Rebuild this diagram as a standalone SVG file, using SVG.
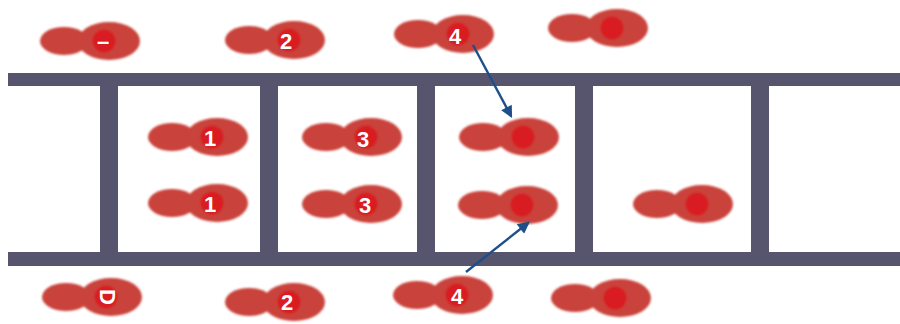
<svg xmlns="http://www.w3.org/2000/svg" xmlns:xlink="http://www.w3.org/1999/xlink" width="900" height="324" viewBox="0 0 900 324">
  <style>
    .rail { fill: #57546e; }
    .heel, .ball { fill: #c9433b; }
    .dot { fill: #d81e20; }
    .lbl { font-family: "Liberation Sans", Arial, sans-serif; font-weight: bold; font-size: 22px; fill: #ffffff; text-anchor: middle; dominant-baseline: central; }
    .conn { stroke: #1d4f8a; stroke-width: 2.4; fill: none; marker-end: url(#arrow); }
  </style>
  <defs>
    <filter id="soft" x="-10%" y="-20%" width="120%" height="140%">
      <feGaussianBlur stdDeviation="0.8"/>
    </filter>
    <!-- footprint shape, origin at the centre of the ball of the foot -->
    <g id="foot" filter="url(#soft)">
      <ellipse class="heel" cx="-45" cy="0" rx="24" ry="14"/>
      <ellipse class="heel" cx="-22" cy="1" rx="16" ry="9"/>
      <ellipse class="ball" cx="0" cy="0" rx="31" ry="19"/>
      <circle class="dot" cx="-5" cy="0" r="11.5"/>
    </g>
    <marker id="arrow" viewBox="0 0 10 10" refX="8" refY="5" markerWidth="5.5" markerHeight="5" orient="auto" markerUnits="strokeWidth">
      <path d="M0,0 L10,5 L0,10 z" fill="#1d4f8a"/>
    </marker>
  </defs>

  <rect width="900" height="324" fill="#ffffff"/>

  <!-- ladder: two rails and five rungs -->
  <g id="ladder">
    <rect class="rail" x="8" y="73" width="892" height="13"/>
    <rect class="rail" x="8" y="252" width="892" height="14"/>
    <rect class="rail" x="100" y="86" width="18" height="166"/>
    <rect class="rail" x="260" y="86" width="18" height="166"/>
    <rect class="rail" x="417" y="86" width="18" height="166"/>
    <rect class="rail" x="575" y="86" width="18" height="166"/>
    <rect class="rail" x="751" y="86" width="18" height="166"/>
  </g>

  <!-- top row -->
  <g id="step-top-0"><use xlink:href="#foot" x="109" y="41"/><text class="lbl" x="103" y="41">–</text></g>
  <g id="step-top-2"><use xlink:href="#foot" x="294" y="40"/><text class="lbl" x="286" y="41">2</text></g>
  <g id="step-top-4"><use xlink:href="#foot" x="463" y="34"/><text class="lbl" x="455" y="36">4</text></g>
  <g id="step-top-x"><use xlink:href="#foot" x="617" y="28"/></g>

  <!-- inside the ladder, upper line -->
  <g id="step-a-1"><use xlink:href="#foot" x="217" y="137"/><text class="lbl" x="210" y="138">1</text></g>
  <g id="step-a-3"><use xlink:href="#foot" x="371" y="137"/><text class="lbl" x="363" y="139">3</text></g>
  <g id="step-a-x"><use xlink:href="#foot" x="528" y="137"/></g>

  <!-- inside the ladder, lower line -->
  <g id="step-b-1"><use xlink:href="#foot" x="217" y="203"/><text class="lbl" x="210" y="204">1</text></g>
  <g id="step-b-3"><use xlink:href="#foot" x="371" y="204"/><text class="lbl" x="365" y="205">3</text></g>
  <g id="step-b-x"><use xlink:href="#foot" x="527" y="205"/></g>
  <g id="step-b-y"><use xlink:href="#foot" x="702" y="204"/></g>

  <!-- bottom row -->
  <g id="step-bot-0"><use xlink:href="#foot" x="111" y="297"/><text class="lbl" x="107" y="297" transform="rotate(90 107 297)">D</text></g>
  <g id="step-bot-2"><use xlink:href="#foot" x="294" y="302"/><text class="lbl" x="287" y="302">2</text></g>
  <g id="step-bot-4"><use xlink:href="#foot" x="462" y="295"/><text class="lbl" x="457" y="296">4</text></g>
  <g id="step-bot-x"><use xlink:href="#foot" x="620" y="298"/></g>

  <!-- moves -->
  <g id="connectors">
    <line class="conn" x1="473" y1="45" x2="511" y2="116"/>
    <line class="conn" x1="466" y1="272" x2="528" y2="223"/>
  </g>
</svg>
